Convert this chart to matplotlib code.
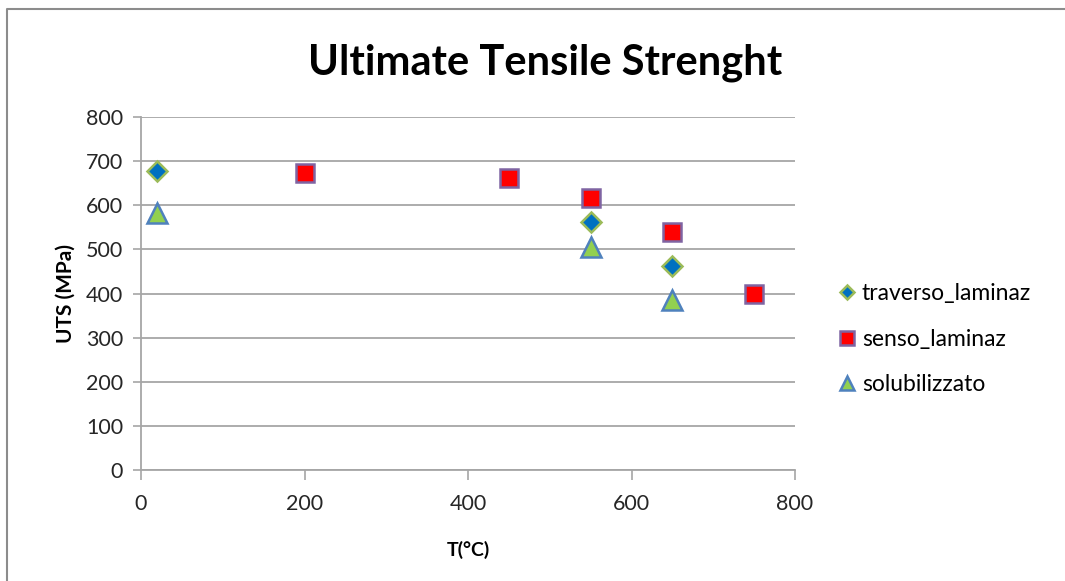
import matplotlib.pyplot as plt
from matplotlib.lines import Line2D

# Data
t_traverso = [20, 550, 650]
uts_traverso = [678, 563, 463]
t_senso = [200, 450, 550, 650, 750]
uts_senso = [672, 661, 617, 540, 399]
t_solub = [20, 550, 650]
uts_solub = [582, 505, 386]
x_ticks = [0, 200, 400, 600, 800]
y_ticks = [0, 100, 200, 300, 400, 500, 600, 700, 800]

plt.rcParams['font.family'] = ['Lato', 'DejaVu Sans']

W, H = 1065, 581
fig = plt.figure(figsize=(W / 100, H / 100), dpi=100)
ax = fig.add_axes([141 / W, 1 - 470 / H, (795 - 141) / W, (470 - 117) / H])

ax.plot(t_traverso, uts_traverso, linestyle='none', marker='D', ms=10,
        mfc='#0070c0', mec='#9bbb59', mew=1.8, label='traverso_laminaz', zorder=3)
ax.plot(t_senso, uts_senso, linestyle='none', marker='s', ms=12.5,
        mfc='#ff0000', mec='#7f64a2', mew=1.8, label='senso_laminaz', zorder=3)
ax.plot(t_solub, uts_solub, linestyle='none', marker='^', ms=14,
        mfc='#92d050', mec='#4f81bd', mew=1.8, label='solubilizzato', zorder=3)

ax.set_xlim(0, 800)
ax.set_ylim(0, 800)
ax.set_xticks(x_ticks)
ax.set_yticks(y_ticks)
ax.tick_params(axis='both', labelsize=15.5, length=6, width=1.2, direction='out')
ax.tick_params(axis='x', length=7, pad=10)
ax.tick_params(axis='y', pad=7)
ax.grid(axis='y', color='#a6a6a6', linewidth=1.3)
ax.set_axisbelow(True)
for side in ['top', 'right']:
    ax.spines[side].set_visible(False)
for side in ['left', 'bottom']:
    ax.spines[side].set_color('#a6a6a6')
    ax.spines[side].set_linewidth(1.3)
ax.tick_params(colors='#a6a6a6', labelcolor='#262626')

ax.set_xlabel('T(°C)', fontsize=14, fontweight='bold', labelpad=20)
ax.set_ylabel('UTS (MPa)', fontsize=15, fontweight='bold', labelpad=7)
fig.text(545 / W, 1 - 63 / H, 'Ultimate Tensile Strenght', ha='center', va='center',
         fontsize=30, fontweight='bold')

ax.legend(loc='center left', bbox_to_anchor=(1.055, 0.371), frameon=False,
          fontsize=16.5, handlelength=0.6, handletextpad=0.35, labelspacing=1.05,
          markerscale=0.75, borderaxespad=0)

# outer chart frame (top and left visible)
fig.add_artist(Line2D([7 / W, 7 / W, 1.0], [0.0, 1 - 9 / H, 1 - 9 / H],
                      transform=fig.transFigure, color='#8c8c8c', linewidth=1.5))

fig.savefig('out.png', dpi=100)
